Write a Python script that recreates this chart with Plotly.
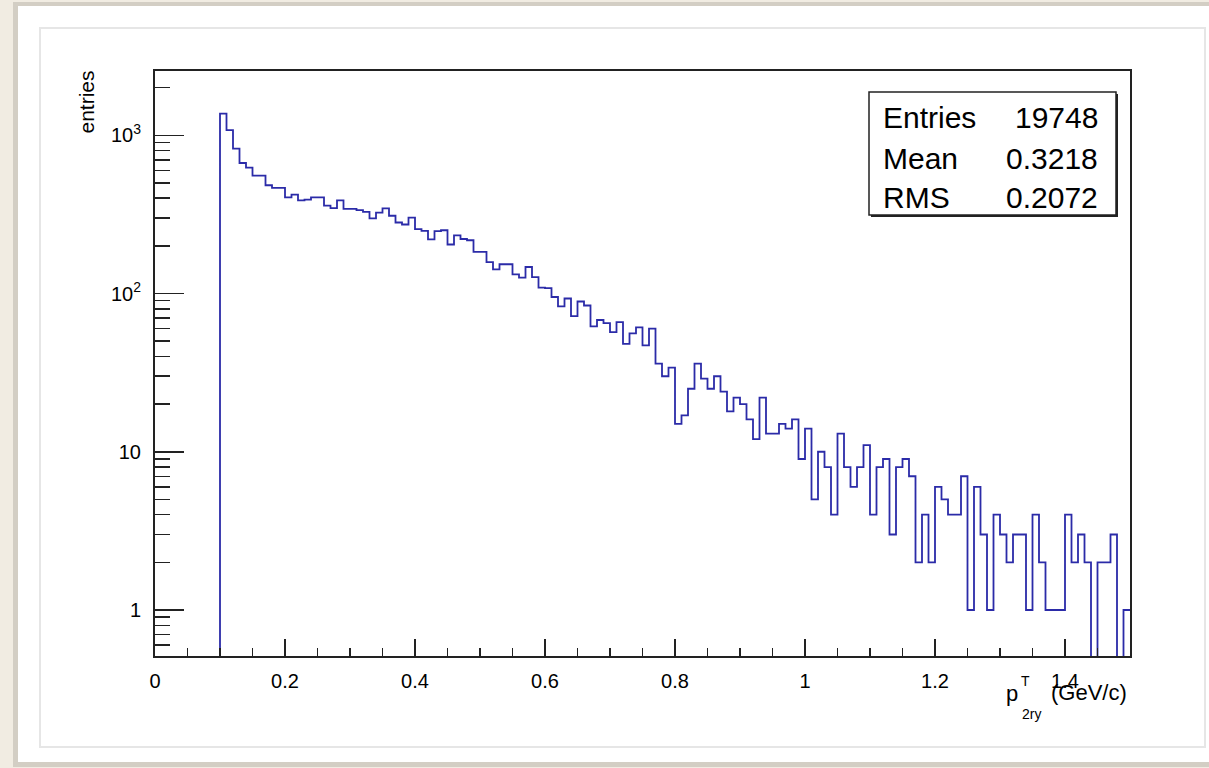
import math
import plotly.graph_objects as go

# ---------------- data ----------------
bin_low = 0.10
bin_width = 0.01
counts = [
    # 0.10 - 0.38
    1371, 1076, 824, 668, 625, 556, 556, 483, 465, 465,
    405, 421, 388, 392, 405, 405, 359, 346, 388, 343,
    343, 336, 328, 298, 324, 345, 310, 281,
    # 0.38 - 0.73
    273, 302, 255, 249, 220, 248, 251, 204, 233, 221,
    217, 183, 183, 158, 142, 153, 153, 132, 126, 147,
    127, 109, 108, 95, 83, 93, 72, 89, 84, 62,
    68, 65, 57, 66, 48,
    # 0.73 - 0.97
    56, 61, 47, 60, 36, 30, 34, 15, 17, 25,
    36, 29, 25, 30, 24, 18, 22, 20, 16, 12,
    22, 13, 13, 15, 14, 16, 9, 14, 5, 10,
    8, 4, 13, 8,
    # 0.97 - 1.17
    6, 8, 11, 4, 8, 9, 3, 8, 9, 7,
    2, 4, 2, 6, 5, 4, 4, 7, 1, 6,
    # 1.17 - 1.50
    3, 1, 4, 3, 2, 3, 3, 1, 4, 2,
    1, 1, 1, 4, 2, 3, 2, 0, 2, 2,
    3, 0, 1,
]
x_tick_vals = [0, 0.2, 0.4, 0.6, 0.8, 1.0, 1.2, 1.4]
x_tick_text = ["0", "0.2", "0.4", "0.6", "0.8", "1", "1.2", "1.4"]
y_tick_vals = [1, 10, 100, 1000]
y_tick_text = ["1", "10", "10<sup>2</sup>", "10<sup>3</sup>"]
stat_labels = ["Entries", "Mean", "RMS"]
stat_values = ["19748", "0.3218", "0.2072"]
y_title = "entries"

# ---------------- geometry / style ----------------
W, H = 1209, 768
L, R, T, B = 155, 1130, 71, 656
FONT = "Liberation Sans, Arial, Helvetica, sans-serif"
LINE = "#222222"
HIST = "#2b2ba8"
y_lo, y_hi = 0.512, 2547.0
floor_val = 0.05  # empty bins drawn down past the axis floor


def px(x):
    return (x - L) / (R - L)


def py(y):
    return (B - y) / (B - T)


n = len(counts)
edges = [bin_low + i * bin_width for i in range(n)]
xs = [bin_low] + edges + [bin_low + n * bin_width]
ys = [floor_val] + [c if c > 0 else floor_val for c in counts] + [counts[-1] if counts[-1] > 0 else floor_val]

minor_y = []
for d in range(-1, 4):
    for k in range(2, 10):
        v = k * 10 ** d
        if y_lo < v < y_hi:
            minor_y.append(v)

fig = go.Figure()
fig.add_trace(go.Scatter(
    x=xs, y=ys, mode="lines",
    line=dict(shape="hv", color=HIST, width=1.8),
    hoverinfo="skip", showlegend=False,
))

shapes = [
    # card shadow + card + inner border
    dict(type="rect", xref="paper", yref="paper", layer="below",
         x0=px(13), x1=px(1215), y0=py(2), y1=py(767),
         fillcolor="#d3cec4", line=dict(width=0)),
    dict(type="rect", xref="paper", yref="paper", layer="below",
         x0=px(18), x1=px(1215), y0=py(6), y1=py(762),
         fillcolor="#ffffff", line=dict(width=0)),
    dict(type="rect", xref="paper", yref="paper", layer="below",
         x0=px(40), x1=px(1205), y0=py(28), y1=py(747),
         fillcolor="rgba(0,0,0,0)", line=dict(color="#e6e6e6", width=2)),
    # stats box shadow + box
    dict(type="rect", xref="paper", yref="paper", layer="above",
         x0=px(871), x1=px(1118), y0=py(94), y1=py(217),
         fillcolor=LINE, line=dict(width=0)),
    dict(type="rect", xref="paper", yref="paper", layer="above",
         x0=px(869), x1=px(1116), y0=py(92), y1=py(215),
         fillcolor="#ffffff", line=dict(color=LINE, width=1.5)),
]

annotations = []
row_y = [117, 158, 197]
for lab, val, yy in zip(stat_labels, stat_values, row_y):
    annotations.append(dict(xref="paper", yref="paper", x=px(881), y=py(yy),
                            xanchor="left", yanchor="middle", showarrow=False,
                            text=lab, font=dict(family=FONT, size=30, color="#000")))
    annotations.append(dict(xref="paper", yref="paper", x=px(1100), y=py(yy),
                            xanchor="right", yanchor="middle", showarrow=False,
                            text=val, font=dict(family=FONT, size=30, color="#000")))

annotations += [
    dict(xref="paper", yref="paper", x=px(86), y=py(69), xanchor="center", yanchor="top",
         textangle=-90, showarrow=False, text=y_title,
         font=dict(family=FONT, size=21, color="#000")),
    dict(xref="paper", yref="paper", x=px(1012), y=py(693), xanchor="center", yanchor="middle",
         showarrow=False, text="p", font=dict(family=FONT, size=22, color="#000")),
    dict(xref="paper", yref="paper", x=px(1025), y=py(681), xanchor="center", yanchor="middle",
         showarrow=False, text="T", font=dict(family=FONT, size=14, color="#000")),
    dict(xref="paper", yref="paper", x=px(1031), y=py(714), xanchor="center", yanchor="middle",
         showarrow=False, text="2ry", font=dict(family=FONT, size=14, color="#000")),
    dict(xref="paper", yref="paper", x=px(1049), y=py(692), xanchor="left", yanchor="middle",
         showarrow=False, text="(GeV/c)", font=dict(family=FONT, size=22, color="#000")),
]

fig.update_layout(
    width=W, height=H, autosize=False,
    margin=dict(l=L, r=W - R, t=T, b=H - B, pad=0),
    paper_bgcolor="#f1ece2", plot_bgcolor="#ffffff",
    shapes=shapes, annotations=annotations, showlegend=False,
    xaxis=dict(
        range=[0, 1.5], tickmode="array", tickvals=x_tick_vals, ticktext=x_tick_text,
        ticks="inside", ticklen=17, tickwidth=1.5, tickcolor=LINE,
        showline=True, linecolor=LINE, linewidth=2, mirror=True,
        showgrid=False, zeroline=False, ticklabelstandoff=6,
        tickfont=dict(family=FONT, size=20, color="#000"),
        minor=dict(tick0=0, dtick=0.05, ticks="inside", ticklen=8, tickwidth=1.5,
                   tickcolor=LINE, showgrid=False),
    ),
    yaxis=dict(
        type="log", range=[math.log10(y_lo), math.log10(y_hi)],
        tickmode="array", tickvals=y_tick_vals, ticktext=y_tick_text,
        ticks="inside", ticklen=29, tickwidth=1.5, tickcolor=LINE,
        showline=True, linecolor=LINE, linewidth=2, mirror=True,
        showgrid=False, zeroline=False, ticklabelstandoff=8,
        tickfont=dict(family=FONT, size=20, color="#000"),
        minor=dict(tickmode="array", tickvals=minor_y, ticks="inside", ticklen=15,
                   tickwidth=1.5, tickcolor=LINE, showgrid=False),
    ),
)

fig.write_html("out.html",
               config={"displayModeBar": False, "staticPlot": True},
               post_script="document.body.style.margin='0';document.body.style.overflow='hidden';")
